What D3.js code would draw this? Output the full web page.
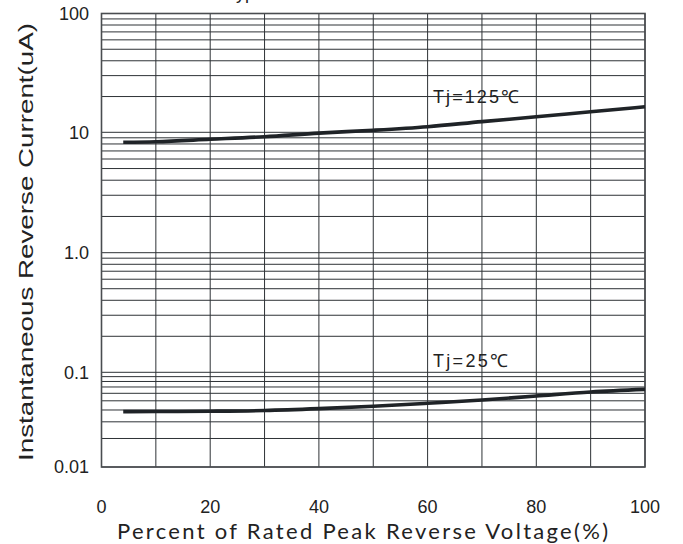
<!DOCTYPE html>
<html><head><meta charset="utf-8">
<script src="https://cdn.jsdelivr.net/npm/d3@7"></script>
<style>html,body{margin:0;padding:0;background:#fff;}svg{display:block;}</style>
</head><body>
<script>
// ---- data ----
const percent = [4, 10, 20, 30, 40, 50, 60, 70, 80, 90, 100];
const current125 = [8.26, 8.35, 8.75, 9.19, 9.85, 10.4, 11.14, 12.3, 13.5, 14.9, 16.4];
const current25 = [0.0384, 0.0385, 0.0388, 0.0395, 0.0413, 0.0438, 0.0471, 0.0509, 0.0562, 0.062, 0.0661];
const xTicks = [0, 20, 40, 60, 80, 100];
const yDecades = [0.01, 0.1, 1, 10, 100];
const yTickLabels = ["0.01", "0.1", "1.0", "10", "100"];
const seriesLabels = ["Tj=125\u2103", "Tj=25\u2103"];
const titleText = "Typical Reverse Characteristics";
const xTitle = "Percent of Rated Peak Reverse Voltage(%)";
const yTitle = "Instantaneous Reverse Current(uA)";

const W = 683, H = 544;
const pLeft = 101.5, pRight = 645, pTop = 13.5, pBottom = 467;

const svg = d3.select("body").append("svg").attr("width", W).attr("height", H);

const x = d3.scaleLinear().domain([0, 100]).range([pLeft, pRight]);
// piecewise log axis (each decade drawn with its own height, as in the original)
const yl = d3.scaleLinear().domain([-2, -1, 0, 1, 2]).range([pBottom, 372.3, 252.7, 132.3, pTop]);
const y = v => yl(Math.log10(v));

// grid
const g = svg.append("g");
const hVals = [];
yDecades.forEach(d => { for (let k = 1; k <= 9; k++) { const v = d * k; if (v <= 100 + 1e-9) hVals.push(v); } });
g.selectAll("line.h").data(hVals).enter().append("line")
  .attr("x1", pLeft).attr("x2", pRight)
  .attr("y1", d => y(d)).attr("y2", d => y(d))
  .attr("stroke", "#2e3236").attr("stroke-width", 1);
g.selectAll("line.v").data(d3.range(0, 101, 10)).enter().append("line")
  .attr("y1", pTop).attr("y2", pBottom)
  .attr("x1", d => x(d)).attr("x2", d => x(d))
  .attr("stroke", "#2e3236").attr("stroke-width", 1);
g.append("rect").attr("x", pLeft).attr("y", pTop).attr("width", pRight - pLeft).attr("height", pBottom - pTop)
  .attr("fill", "none").attr("stroke", "#4a4d50").attr("stroke-width", 1.6);

// curves
const line = d3.line().x((d, i) => x(percent[i])).y(d => y(d)).curve(d3.curveMonotoneX);
[current125, current25].forEach(s => {
  svg.append("path").datum(s).attr("d", line)
    .attr("fill", "none").attr("stroke", "#1f2327").attr("stroke-width", 3.6);
});

// series labels
const lf = "'Liberation Sans', Arial, sans-serif";
svg.append("text").attr("x", x(61)).attr("y", y(20)).attr("dy", "0.35em")
  .attr("font-family", lf).attr("font-size", 18).attr("fill", "#222")
  .attr("textLength", 86).attr("lengthAdjust", "spacing").text(seriesLabels[0]);
svg.append("text").attr("x", x(61)).attr("y", y(0.125)).attr("dy", "0.35em")
  .attr("font-family", lf).attr("font-size", 18).attr("fill", "#222")
  .attr("textLength", 75).attr("lengthAdjust", "spacing").text(seriesLabels[1]);

// y tick labels
svg.selectAll("text.yt").data(yDecades).enter().append("text")
  .attr("x", 89).attr("y", d => y(d)).attr("dy", "0.35em")
  .attr("text-anchor", "end").attr("font-family", lf).attr("font-size", 18).attr("fill", "#222")
  .text((d, i) => yTickLabels[i]);

// x tick labels
svg.selectAll("text.xt").data(xTicks).enter().append("text")
  .attr("x", d => x(d)).attr("y", 513)
  .attr("text-anchor", "middle").attr("font-family", lf).attr("font-size", 18).attr("fill", "#222")
  .text(d => d);

// axis titles
svg.append("text").attr("x", 362.5).attr("y", 538.5).attr("text-anchor", "middle")
  .attr("font-family", "Lato, 'Open Sans', sans-serif").attr("font-size", 22).attr("fill", "#222")
  .attr("textLength", 491).attr("lengthAdjust", "spacing").text(xTitle);
svg.append("text").attr("transform", "translate(33,242) rotate(-90)").attr("text-anchor", "middle")
  .attr("font-family", lf).attr("font-size", 20).attr("fill", "#222")
  .attr("textLength", 438).attr("lengthAdjust", "spacingAndGlyphs").text(yTitle);

// cropped title at very top (only descenders visible)
svg.append("text").attr("x", 226).attr("y", -1)
  .attr("font-family", lf).attr("font-size", 18).attr("fill", "#222").text(titleText);
</script>
</body></html>
